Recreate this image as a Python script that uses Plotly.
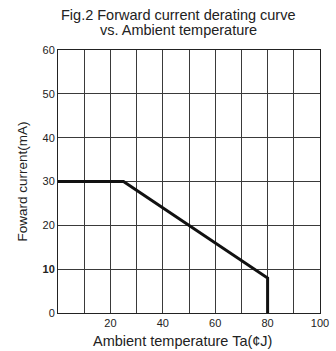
import plotly.graph_objects as go

# Data
temperature = [0, 25, 80, 80]
current = [30, 30, 8, 0]
x_tick_vals = [0, 10, 20, 30, 40, 50, 60, 70, 80, 90, 100]
x_tick_text = ["", "", "20", "", "40", "", "60", "", "80", "", "100"]
y_tick_vals = [0, 10, 20, 30, 40, 50, 60]
y_tick_text = ["0", "<b>10</b>", "20", "30", "40", "50", "60"]

font_family = "Liberation Sans, Arial, sans-serif"
PH = 263.0  # plot height in px
PW = 262.0  # plot width in px

fig = go.Figure()
fig.add_trace(go.Scatter(
    x=temperature, y=current, mode="lines",
    line=dict(color="#111111", width=3),
    hoverinfo="skip", showlegend=False,
))

fig.update_layout(
    width=336, height=351,
    margin=dict(l=58, r=16, t=50, b=38, autoexpand=False),
    paper_bgcolor="white", plot_bgcolor="white",
    font=dict(family=font_family, color="#222222", size=11),
    annotations=[
        dict(text="Fig.2 Forward current derating curve", xref="paper", yref="paper",
             x=(178.5 - 58) / PW, y=1.0 + 35 / PH, xanchor="center", yanchor="middle",
             showarrow=False, font=dict(size=14.5, color="#222222")),
        dict(text="vs. Ambient temperature", xref="paper", yref="paper",
             x=(178.5 - 58) / PW, y=1.0 + 20 / PH, xanchor="center", yanchor="middle",
             showarrow=False, font=dict(size=14.5, color="#222222")),
        dict(text="Ambient temperature Ta(¢J)", xref="paper", yref="paper",
             x=(182.5 - 58) / PW, y=-28 / PH, xanchor="center", yanchor="middle",
             showarrow=False, font=dict(size=14.5, color="#222222")),
        dict(text="Foward current(mA)", xref="paper", yref="paper",
             x=-36 / PW, y=0.5, xanchor="center", yanchor="middle", textangle=-90,
             showarrow=False, font=dict(size=13.5, color="#222222")),
    ],
)
fig.update_xaxes(
    range=[0, 100], tickvals=x_tick_vals, ticktext=x_tick_text,
    showgrid=True, gridcolor="#3a3a3a", gridwidth=1,
    showline=True, linecolor="#222222", linewidth=1, mirror=True,
    ticks="", zeroline=False, fixedrange=True, automargin=False,
    tickfont=dict(size=11),
)
fig.update_yaxes(
    range=[0, 60], tickvals=y_tick_vals, ticktext=y_tick_text,
    showgrid=True, gridcolor="#3a3a3a", gridwidth=1,
    showline=True, linecolor="#222222", linewidth=1, mirror=True,
    ticks="", zeroline=False, fixedrange=True, automargin=False,
    tickfont=dict(size=11),
)

fig.write_html(
    "out.html",
    config={"displayModeBar": False},
    post_script="document.body.style.margin='0px';document.body.style.overflow='hidden';",
)
